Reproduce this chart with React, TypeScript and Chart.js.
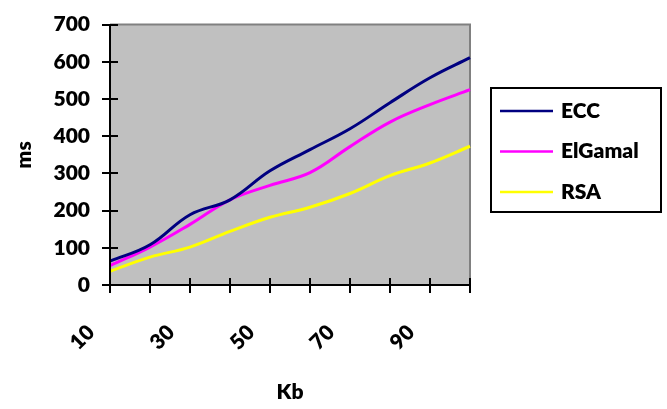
import React, { useEffect, useRef } from "react";
import { Chart, registerables } from "chart.js";

Chart.register(...registerables);

const categories = ["10", "20", "30", "40", "50", "60", "70", "80", "90", "100"];
const eccValues = [64, 108, 189, 229, 307, 364, 420, 490, 557, 611];
const elgamalValues = [52, 102, 163, 229, 268, 302, 372, 438, 485, 525];
const rsaValues = [37, 75, 102, 144, 182, 209, 246, 294, 328, 373];
const seriesNames = ["ECC", "ElGamal", "RSA"];
const seriesColors = ["#000080", "#FF00FF", "#FFFF00"];
const yTicks = [0, 100, 200, 300, 400, 500, 600, 700];
const xTitle = "Kb";
const yTitle = "ms";

const FONT = "Lato, 'Liberation Sans', sans-serif";
const WEIGHT = 800;
const SIZE = 21;

const framePlugin = {
  id: "frame",
  beforeDatasetsDraw(chart: any) {
    const { ctx, chartArea } = chart;
    const { left, top, right, bottom } = chartArea;
    ctx.save();
    ctx.fillStyle = "#C0C0C0";
    ctx.fillRect(left, top, right - left, bottom - top);
    ctx.strokeStyle = "#808080";
    ctx.lineWidth = 2;
    ctx.beginPath();
    ctx.moveTo(left, top);
    ctx.lineTo(right, top);
    ctx.lineTo(right, bottom);
    ctx.stroke();
    ctx.restore();
  },
  afterDatasetsDraw(chart: any) {
    const { ctx, chartArea, scales } = chart;
    const { left, top, right, bottom } = chartArea;
    ctx.save();
    ctx.strokeStyle = "#000000";
    ctx.lineWidth = 2;
    ctx.beginPath();
    ctx.moveTo(left, top);
    ctx.lineTo(left, bottom + 8);
    ctx.moveTo(left - 8, bottom);
    ctx.lineTo(right, bottom);
    const ys = scales.y;
    yTicks.forEach((v) => {
      const py = Math.round(ys.getPixelForValue(v));
      ctx.moveTo(left - 8, py);
      ctx.lineTo(left + 8, py);
    });
    const xs = scales.x;
    categories.forEach((_, i) => {
      const px = Math.round(xs.getPixelForValue(i));
      ctx.moveTo(px, bottom - 7);
      ctx.lineTo(px, bottom + 8);
    });
    ctx.stroke();
    ctx.restore();
  },
  afterDraw(chart: any) {
    const { ctx, chartArea } = chart;
    const bx = chartArea.right + 21;
    const by = 88;
    const bw = 170;
    const bh = 124;
    ctx.save();
    ctx.strokeStyle = "#000000";
    ctx.lineWidth = 2;
    ctx.strokeRect(bx, by, bw, bh);
    ctx.font = `${WEIGHT} ${SIZE}px ${FONT}`;
    ctx.textBaseline = "middle";
    ctx.textAlign = "left";
    chart.data.datasets.forEach((ds: any, i: number) => {
      const y = by + 23 + i * 40.5;
      ctx.strokeStyle = ds.borderColor;
      ctx.lineWidth = 2.5;
      ctx.beginPath();
      ctx.moveTo(bx + 9, y);
      ctx.lineTo(bx + 62, y);
      ctx.stroke();
      ctx.fillStyle = "#000000";
      ctx.fillText(ds.label, bx + 70, y);
    });
    ctx.restore();
  },
};

export default function App() {
  const ref = useRef<HTMLCanvasElement | null>(null);
  useEffect(() => {
    if (!ref.current) return;
    const values = [eccValues, elgamalValues, rsaValues];
    const font = { family: FONT, size: SIZE, weight: WEIGHT };
    const chart = new Chart(ref.current, {
      type: "line",
      data: {
        labels: categories,
        datasets: seriesNames.map((name, i) => ({
          label: name,
          data: values[i],
          borderColor: seriesColors[i],
          backgroundColor: seriesColors[i],
          borderWidth: 3,
          pointRadius: 0,
          tension: 0.4,
          fill: false,
        })),
      },
      options: {
        responsive: false,
        animation: false,
        layout: { padding: { top: 17, right: 197, bottom: 0, left: 0 } },
        plugins: { legend: { display: false }, tooltip: { enabled: false } },
        scales: {
          x: {
            offset: false,
            grid: { color: "rgba(0,0,0,0)", drawOnChartArea: false, drawTicks: true, tickLength: 8 },
            border: { display: false },
            ticks: {
              autoSkip: false,
              minRotation: 45,
              maxRotation: 45,
              padding: 27,
              labelOffset: -19,
              color: "#000000",
              font,
              callback: (_v: any, i: number) => (i % 2 === 0 ? categories[i] : ""),
            },
            title: {
              display: true,
              text: xTitle,
              color: "#000000",
              font,
              padding: { top: 0, bottom: 4 },
            },
            afterFit: (s: any) => {
              s.height = 124;
            },
          },
          y: {
            min: 0,
            max: 700,
            grid: { color: "rgba(0,0,0,0)", drawOnChartArea: false, drawTicks: true, tickLength: 8 },
            border: { display: false },
            afterBuildTicks: (s: any) => {
              s.ticks = yTicks.map((v) => ({ value: v }));
            },
            ticks: {
              padding: 12,
              color: "#000000",
              font,
            },
            title: {
              display: true,
              text: yTitle,
              color: "#000000",
              font,
              padding: { top: 12, bottom: 0 },
            },
            afterFit: (s: any) => {
              s.width = 110;
            },
          },
        },
      },
      plugins: [framePlugin],
    } as any);
    return () => chart.destroy();
  }, []);
  return (
    <div style={{ position: "absolute", left: 0, top: 0, width: 667, height: 409, background: "#ffffff" }}>
      <canvas ref={ref} width={667} height={409} style={{ display: "block" }} />
    </div>
  );
}
